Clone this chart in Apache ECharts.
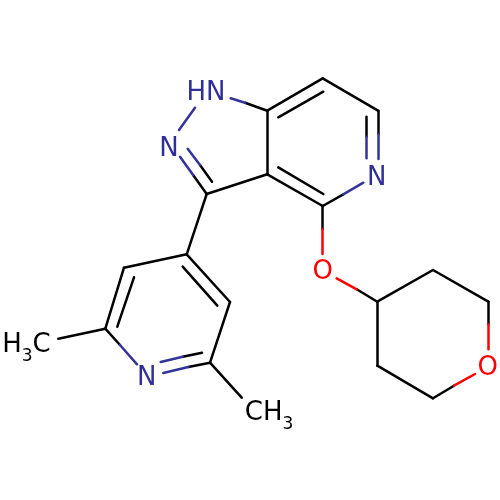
<!DOCTYPE html>
<html><head><meta charset="utf-8">
<style>html,body{margin:0;padding:0;background:#fff}#c{width:500px;height:500px}</style>
<script src="https://cdn.jsdelivr.net/npm/echarts@6/dist/echarts.min.js"></script>
</head><body><div id="c"></div>
<script>
// Bond segments: [x1, y1, x2, y2]
var blackBonds = [
  [245,102.7,267.3,110.7],[267.3,110.7,322.7,78.3],[278.3,117.3,323.3,91.7],[322.7,78.3,378,110.7],
  [378,110.7,378,134],[366.7,116.7,366.7,136.7],[343.3,194.3,322.7,206],[322.7,206,267.3,174.3],
  [323.3,194,278.3,167.3],[267.3,174.3,267.3,110.7],[267.3,174.3,206.7,194],[206.7,194,193.3,175.3],
  [212,181.7,200,165],[206.7,194,186.7,254.3],[186.7,254.3,124,267.7],[124,267.7,105.3,328.7],
  [134,277.3,117.3,326.7],[105.3,328.7,58.3,338.7],[105.3,328.7,120,345],[186.7,254.3,230,302],
  [182.7,266.7,217.3,305.7],[230,302,210,362.7],[210,362.7,188.3,367],[202,352.7,182.7,356.7],
  [210,362.7,241.7,397.7],[322.7,206,322.7,229],[356.7,289.3,377.3,301.7],[377.3,301.7,433,270],
  [433,270,488.3,301.7],[488.3,301.7,488.3,324.3],[454,385.7,433,398.3],[433,398.3,377.3,365.7],
  [377.3,365.7,377.3,301.7]
];
var blueBonds = [
  [230.7,98.3,245,102.7],[195,107.7,179,130],[180,156.7,193.3,175.3],[187.7,148.7,200,165],
  [378,134,378,159],[366.7,136.7,366.7,158.3],[363.3,182.7,343.3,194.3],[120,345,137,364.3],
  [163.3,373,188.3,367],[160.7,362,182.7,356.7]
];
var redBonds = [
  [322.7,229,322.7,254],[336.7,278.3,356.7,289.3],[488.3,324.3,488.3,349.3],[475,374,454,385.7]
];
var atomLabels = [
  {name:'HN', value:[206,93], color:'#2f2f97'},
  {name:'N', value:[169,149], color:'#2f2f97'},
  {name:'N', value:[376.7,178], color:'#2f2f97'},
  {name:'N', value:[146.7,378], color:'#2f2f97'},
  {name:'O', value:[322.7,272.5], color:'#ff0000'},
  {name:'O', value:[487.7,368], color:'#ff0000'},
  {name:'{a|H}{s|3}{a|C}', value:[26.5,345.5], color:'#000000'},
  {name:'{a|CH}{s|3}', value:[269,413.5], color:'#000000'}
];
function bondSeries(list, color){
  return {type:'lines', coordinateSystem:'cartesian2d', silent:true, polyline:false,
    lineStyle:{color:color, width:2.5, opacity:1, cap:'round', curveness:0},
    data:list.map(function(b){return {coords:[[b[0],b[1]],[b[2],b[3]]]};})};
}
var chart = echarts.init(document.getElementById('c'), null, {renderer:'canvas'});
chart.setOption({
  animation:false, backgroundColor:'#ffffff',
  grid:{left:0,right:0,top:0,bottom:0},
  xAxis:{type:'value',min:0,max:500,show:false},
  yAxis:{type:'value',min:0,max:500,inverse:true,show:false},
  series:[
    bondSeries(blackBonds,'#000000'),
    bondSeries(blueBonds,'#333399'),
    bondSeries(redBonds,'#ff0000'),
    {type:'scatter', symbolSize:0, silent:true, itemStyle:{opacity:1},
     data:atomLabels.map(function(a){return {
       value:a.value, name:a.name,
       label:{show:true, position:'inside', formatter:a.name, color:a.color, opacity:1,
         fontFamily:'DejaVu Sans', fontSize:26,
         rich:{a:{fontFamily:'DejaVu Sans',fontSize:26,color:a.color},
               s:{fontFamily:'DejaVu Sans',fontSize:17,color:a.color,padding:[23,0,0,0]}}}
     };})}
  ]
});
</script></body></html>
